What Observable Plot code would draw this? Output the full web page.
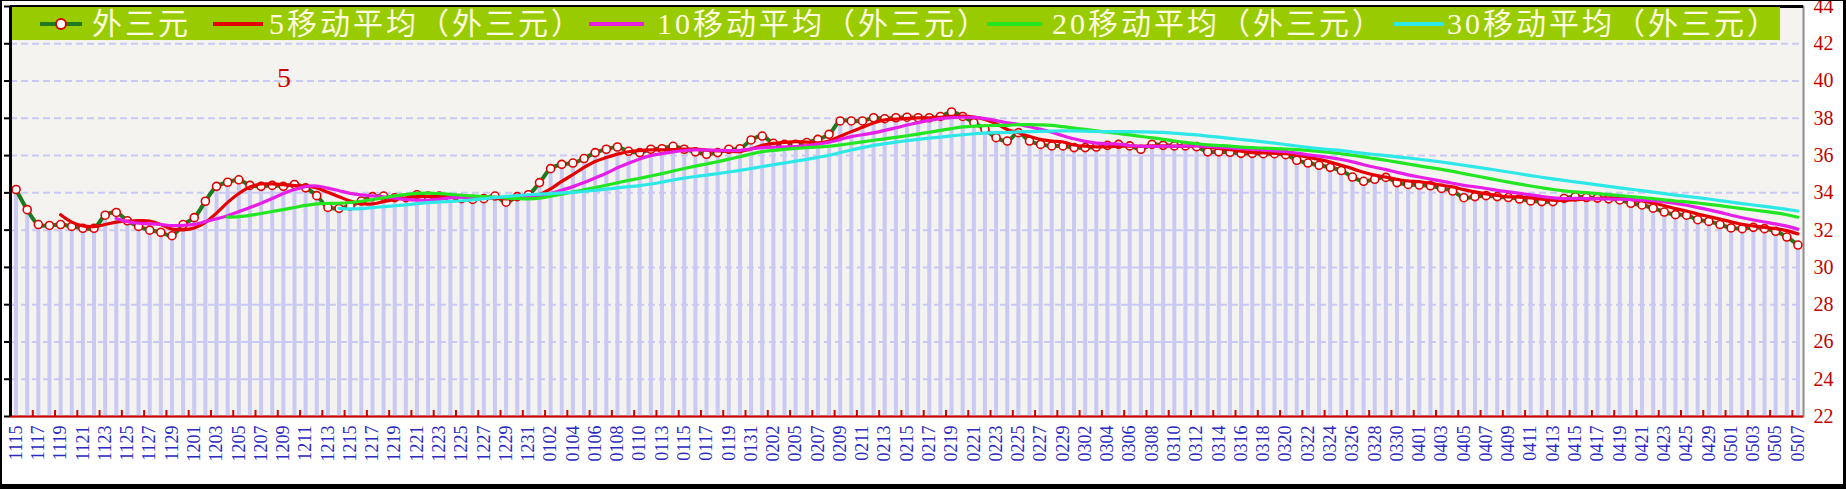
<!DOCTYPE html>
<html><head><meta charset="utf-8">
<script src="https://cdn.jsdelivr.net/npm/d3@7"></script>
<script src="https://cdn.jsdelivr.net/npm/@observablehq/plot@0.6"></script>
<style>
html,body{margin:0;padding:0;background:#fff;}
#wrap{position:relative;width:1846px;height:489px;overflow:hidden;background:#fff;}
#chart{position:absolute;left:0;top:0;}
#legend{position:absolute;left:12px;top:7px;width:1768px;height:33px;background:#99cc00;}
.lg-line{position:absolute;top:15px;height:4px;}
.lg-dot{position:absolute;top:11px;width:8px;height:8px;border-radius:50%;background:#fff;border:2px solid #e00000;box-sizing:content-box;}
.lg-text{position:absolute;top:0;line-height:33px;font-family:"Liberation Serif","Noto Sans CJK SC",serif;font-size:30px;color:#fffbe0;white-space:nowrap;letter-spacing:3px;}
#note{position:absolute;left:277px;top:62px;font-family:"Liberation Serif",serif;font-size:28px;color:#d00000;}
#border{position:absolute;left:0;top:0;width:1846px;height:489px;box-sizing:border-box;border-left:2px solid #000;border-right:3px solid #000;border-bottom:5px solid #000;border-top:1px solid #000;pointer-events:none;}
</style>
</head><body>
<div id="wrap">
  <div id="chart"></div>
  <div id="legend"></div>
  <div id="note">5</div>
  <div id="border"></div>
</div>
<script>
// ---- data ----
const dates = [
"1115","1116","1117","1118","1119","1120","1121","1122","1123","1124","1125","1126","1127","1128","1129","1130",
"1201","1202","1203","1204","1205","1206","1207","1208","1209","1210","1211","1212","1213","1214","1215","1216",
"1217","1218","1219","1220","1221","1222","1223","1224","1225","1226","1227","1228","1229","1230","1231","0101",
"0102","0103","0104","0105","0106","0107","0108","0109","0110","0111","0113","0114","0115","0116","0117","0118",
"0119","0120","0131","0201","0202","0203","0205","0206","0207","0208","0209","0210","0211","0212","0213","0214",
"0215","0216","0217","0218","0219","0220","0221","0222","0223","0224","0225","0226","0227","0228","0229","0301",
"0302","0303","0304","0305","0306","0307","0308","0309","0310","0311","0312","0313","0314","0315","0316","0317",
"0318","0319","0320","0321","0322","0323","0324","0325","0326","0327","0328","0329","0330","0331","0401","0402",
"0403","0404","0405","0406","0407","0408","0409","0410","0411","0412","0413","0414","0415","0416","0417","0418",
"0419","0420","0421","0422","0423","0424","0425","0427","0429","0430","0501","0502","0503","0504","0505","0506",
"0507"];
const values = [
34.18,33.10,32.30,32.25,32.30,32.20,32.10,32.10,32.80,32.95,32.50,32.20,32.00,31.88,31.70,32.30,
32.67,33.55,34.35,34.57,34.70,34.40,34.35,34.40,34.35,34.45,34.27,33.85,33.22,33.17,33.30,33.56,
33.80,33.83,33.74,33.74,33.90,33.83,33.83,33.74,33.69,33.65,33.69,33.83,33.50,33.80,33.90,34.55,
35.30,35.53,35.60,35.84,36.16,36.34,36.46,36.23,36.16,36.34,36.37,36.50,36.34,36.20,36.07,36.16,
36.34,36.37,36.84,37.05,36.66,36.60,36.60,36.70,36.87,37.14,37.86,37.86,37.86,38.03,37.98,38.03,
38.06,38.03,38.03,38.10,38.34,38.10,37.77,37.41,36.96,36.78,37.23,36.78,36.60,36.52,36.52,36.43,
36.43,36.46,36.55,36.60,36.52,36.34,36.60,36.55,36.52,36.52,36.48,36.20,36.20,36.18,36.12,36.12,
36.10,36.10,36.05,35.75,35.60,35.48,35.37,35.20,34.85,34.62,34.73,34.83,34.55,34.45,34.42,34.38,
34.24,34.10,33.74,33.80,33.85,33.80,33.75,33.67,33.57,33.53,33.53,33.70,33.80,33.75,33.72,33.68,
33.62,33.44,33.35,33.18,32.97,32.83,32.80,32.56,32.47,32.30,32.12,32.08,32.15,32.08,31.94,31.63,
31.20];
const tickLabels = dates.filter((d, i) => i % 2 === 0);
const yTicks = [22,24,26,28,30,32,34,36,38,40,42,44];
const maPeriods = [5, 10, 20, 30];
const seriesNames = ["外三元","5移动平均（外三元）","10移动平均（外三元）","20移动平均（外三元）","30移动平均（外三元）"];

// ---- styles ----
const mainColor = "#1e7a1e";
const maColors = ["#e40000", "#e61ee6", "#22e622", "#2ee8e8"];
const red = "#d40000";
const lav = "#c9c9f4";

const rows = dates.map((d, i) => ({date: d, value: values[i]}));
const halfStep = (1846 - 10 - 43) / dates.length / 2;

const chart = Plot.plot({
  width: 1846, height: 489,
  marginLeft: 10, marginRight: 43, marginTop: 6, marginBottom: 73,
  style: {background: "transparent", fontFamily: "Liberation Serif, serif", overflow: "visible"},
  x: {type: "point", domain: dates, padding: 0.5, round: false, axis: null},
  y: {domain: [22, 44], axis: null},
  marks: [
    Plot.frame({fill: "#f4f3f0", stroke: "#8c8c8c", strokeWidth: 2}),
    Plot.ruleY(yTicks.slice(1), {stroke: lav, strokeWidth: 2, strokeDasharray: "7,4"}),
    Plot.ruleX(rows, {x: "date", y1: 22, y2: "value", stroke: lav, strokeWidth: 4}),
    Plot.line(rows, {x: "date", y: "value", stroke: mainColor, strokeWidth: 4, curve: "catmull-rom"}),
    Plot.dot(rows, {x: "date", y: "value", r: 4, fill: "#fff", stroke: "#e00000", strokeWidth: 1.6}),
    ...maPeriods.map((k, j) => Plot.line(rows, Plot.windowY({k, anchor: "end", reduce: "mean", strict: true},
      {x: "date", y: "value", stroke: maColors[j], strokeWidth: 3.2, curve: "catmull-rom"}))),
    Plot.ruleY([22], {stroke: red, strokeWidth: 2}),
    Plot.ruleX(tickLabels.slice(1), {x: d => d, stroke: red, strokeWidth: 2, insetTop: 404, dx: -halfStep}),
    Plot.ruleX([dates[0]], {x: d => d, stroke: "#000", strokeWidth: 3, dx: -halfStep}),
    Plot.ruleY([44], {stroke: "#000", strokeWidth: 3}),
    Plot.axisY(yTicks, {anchor: "left", tickSize: 6, tickFormat: () => "", stroke: "#000", strokeWidth: 2, label: null}),
    Plot.axisY(yTicks, {anchor: "right", tickSize: 0, tickPadding: 10, fill: "#c00000", fontSize: 20, label: null}),
    Plot.axisX(tickLabels, {anchor: "bottom", tickSize: 0, tickPadding: 9, tickRotate: -90, fill: "#2a2ac0", fontSize: 18, label: null})
  ]
});
document.getElementById("chart").appendChild(chart);

// ---- legend ----
const legendLayout = [
  {line: 28, len: 42, text: 80},
  {line: 201, len: 50, text: 257},
  {line: 577, len: 55, text: 645},
  {line: 975, len: 55, text: 1040},
  {line: 1382, len: 50, text: 1435}
];
const legendColors = [mainColor, ...maColors];
const legend = document.getElementById("legend");
seriesNames.forEach((name, i) => {
  const L = legendLayout[i];
  const ln = document.createElement("div");
  ln.className = "lg-line";
  ln.style.left = L.line + "px"; ln.style.width = L.len + "px"; ln.style.background = legendColors[i];
  legend.appendChild(ln);
  if (i === 0) {
    const dot = document.createElement("div");
    dot.className = "lg-dot";
    dot.style.left = (L.line + L.len / 2 - 6) + "px";
    legend.appendChild(dot);
  }
  const tx = document.createElement("div");
  tx.className = "lg-text";
  tx.style.left = L.text + "px";
  tx.textContent = name;
  legend.appendChild(tx);
});
</script>
</body></html>
